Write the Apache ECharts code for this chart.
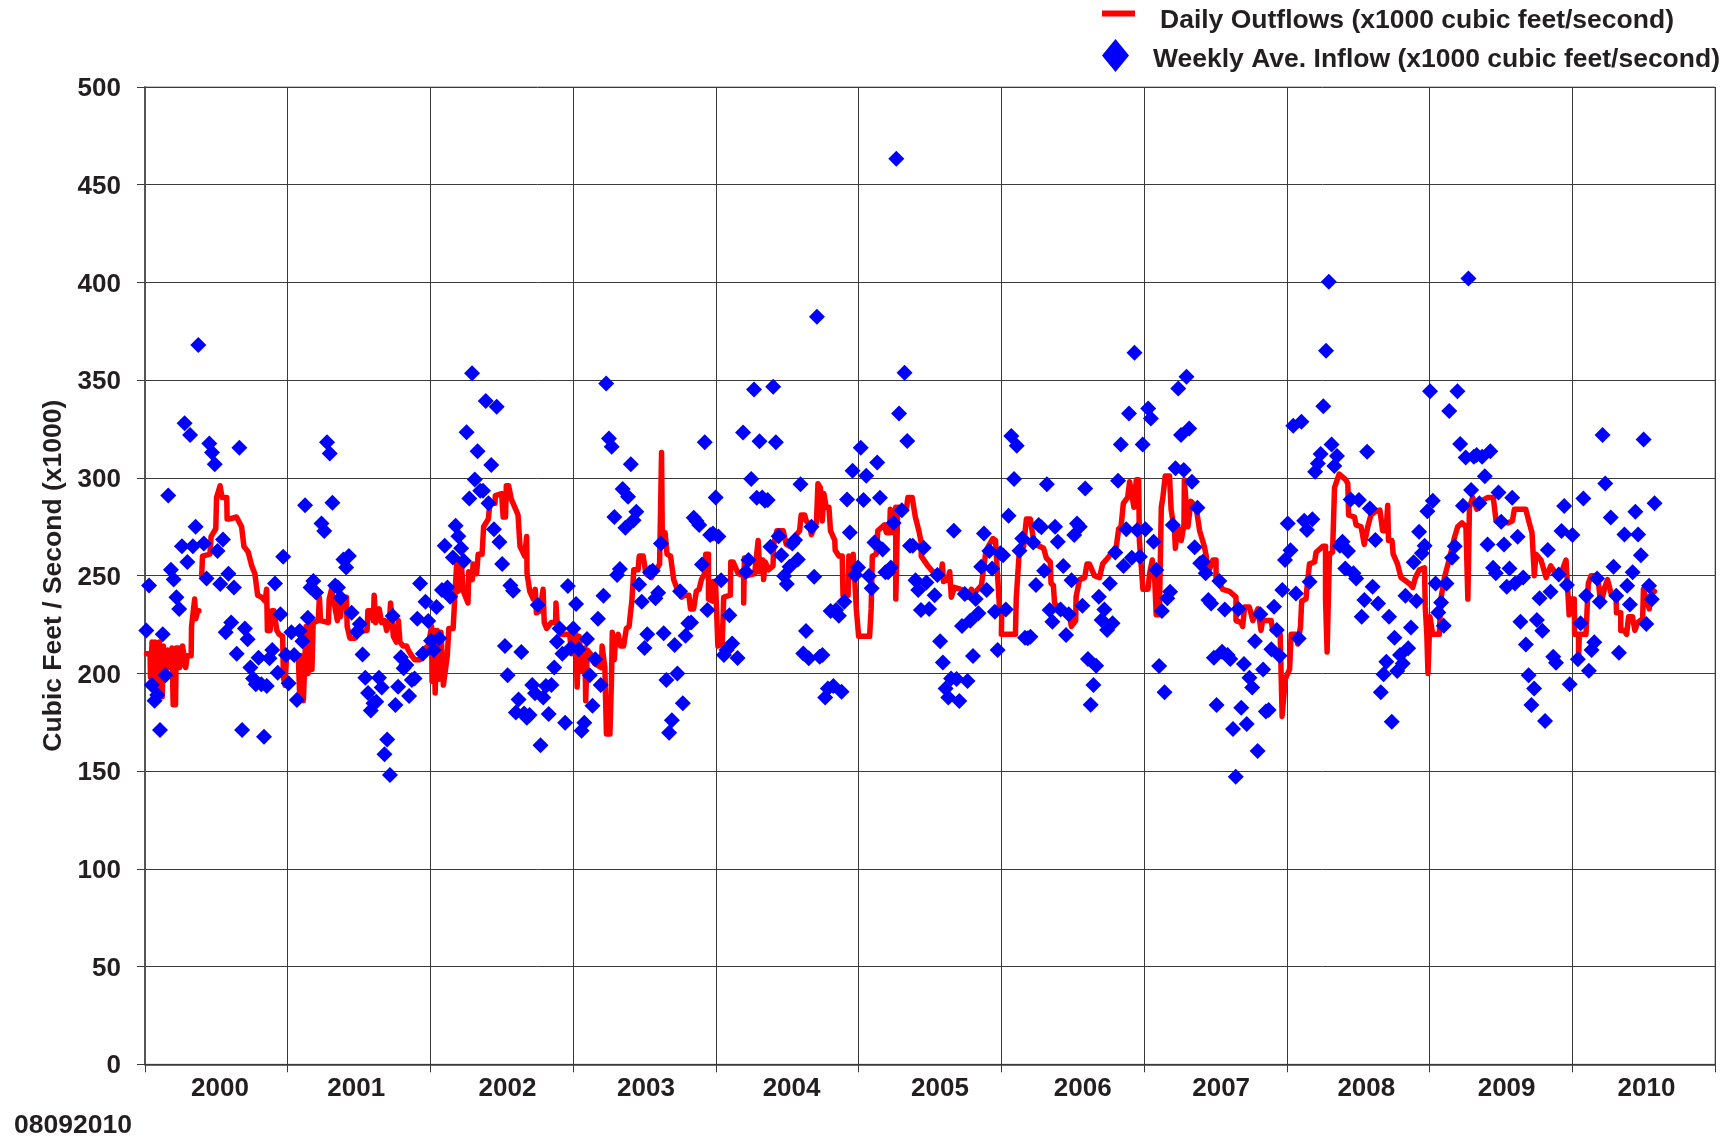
<!DOCTYPE html>
<html><head><meta charset="utf-8">
<style>html,body{margin:0;padding:0;background:#fff}#c{width:1726px;height:1137px}</style>
<script src="https://cdn.jsdelivr.net/npm/echarts@6/dist/echarts.min.js"></script>
</head><body><div id="c"></div>
<script>
const yearLabelPositions=[2000.525,2001.48,2002.54,2003.51,2004.53,2005.57,2006.57,2007.54,2008.557,2009.54,2010.52];
const yTicks=[0,50,100,150,200,250,300,350,400,450,500];
const footnote='08092010';
const outflowName='Daily Outflows (x1000 cubic feet/second)';
const inflowName='Weekly Ave. Inflow (x1000 cubic feet/second)';
const firstWeekDay=3.4;
// weekly inflow, one value per week from the start of 2000
const inflowWeekly=[222,245,194,186,189,171,220,199,291,253,248,239,233,265,328,257,322,265,275,368,null,266.5,248.6,317.6,313,307,262.6,245.7,268.5,221,251,226,244,210,315.4,171,223,217.4,203,197.4,194.4,208,194.4,167.6,193.5,207.7,212,246,200.3,230.2,259.7,209.4,195,221,209.4,186.4,221.7,216.5,286,228.5,244,247.2,241.4,null,276.7,272.8,318.2,312.5,287.3,245,244,238.7,258.3,254.2,260,231,null,221.3,225.2,209.7,197.8,190,181,184.7,185.5,197.8,192.8,158.6,166.2,148,229.3,183.8,193.2,208.2,202.6,204.3,188.4,196.6,197.4,228,246,210,236.7,226.8,216.7,212,234,218,242.6,265.3,244,239.2,259.3,275.5,270.2,264,257.5,323.4,289.5,353.5,299.2,313.7,293.4,293.4,339.3,287,306.6,273.7,336.4,267.2,256,214,199,245,242.3,180,186.7,211,179.5,177.3,178.7,194,189.8,235,163.2,187.6,193.5,179.2,194,203,216.2,223,210,174.8,244.7,212.8,223,235.5,212.4,
170.7,174.8,217.6,199,183.5,207.2,228,194,239.7,348.3,320.2,316,280,250.3,253.4,294.3,274.5,290.4,307,278.4,282.7,245.5,236.7,213,220,251.7,252.5,238.4,241.3,266.5,220.5,196.6,169.6,176,214.5,200,242,184.7,219.3,225.6,226,279.6,278,275.9,255.7,318.2,232.4,270.8,271.6,290,270,247.7,209.4,212,229.8,215.3,null,207.9,null,323.3,252,258,299.4,345.3,289.9,318.8,290,288.3,288.7,264.8,346.6,318.2,270.2,260.5,249.8,245.7,254.6,266.5,268.2,258.3,296.8,210.2,221.7,207.7,275,249.4,382.4,208.5,209.4,187.7,192.3,231.9,193.5,232.4,229.5,190.6,236.7,289,272.1,303.7,250.3,254.2,315.4,288.7,301.1,249.8,243.5,267,307.9,289.9,263.4,251.7,251.7,254.2,277,463.3,333,283.5,353.8,318.9,265.3,265.3,247.7,242.6,232.4,264.3,246.5,232.9,null,240,250.3,216.5,205.6,192.3,187.7,197.4,273,197.1,185.9,224.2,240.6,196.1,226.9,208.9,238,230.7,254.6,271.6,242.6,262.6,253.7,231.5,212,261.4,260.5,232.7,280.6,321.4,299.4,316.4,262.7,
269,218.2,218,218.8,267,245.2,275.9,274.7,252.5,296.7,232.4,226.4,275,267.3,232.7,254.9,219.6,230.2,247.7,270.8,276.7,275,234.6,294.6,207.3,184,194,203.9,239.2,227.3,232.7,222.2,246,225.6,261.9,298.6,317.1,254.9,273.7,333,259.2,364,273.3,259.7,317.1,273.8,335.5,330.4,267.3,252.9,203.8,231.9,190.3,238.4,241.8,275.9,304.9,345.8,321.9,304,351.7,325.3,298,264.5,284.7,256.3,257.1,251.2,237.5,235.8,208,183.8,247.2,211.1,232.7,209.4,207.3,171.5,147.1,232.9,182.4,204.8,174.1,197.8,192.8,216.5,160.3,230.2,202,180.5,181.3,212.4,234.1,222.2,209,242.6,258,276.7,263,326.7,240.9,217.9,328.7,278.1,273.3,246.9,278.8,303.2,307.4,312.2,336.7,365,400.3,317.1,306.1,311.2,265.3,267.3,253.7,262.6,289,251.2,248.6,288.7,229,237.5,313.4,284.4,244.3,268.3,235.8,
190.3,199.5,206,229,175.3,218.2,201.2,209.4,205.1,239.7,212.8,223.5,256.8,237,272.5,261.4,265.3,283,344.4,288.3,246,231.2,236.3,224.4,246,334.2,259.2,265.1,344.4,317.3,285.8,310.5,402,293.8,310.8,311.7,287,310.8,300.9,266,313.7,254,251.2,292.6,277.6,266,244.3,253.7,289.9,246,269.9,226.4,249.1,214.8,199.1,183.8,192.3,227.3,238.4,221.8,175.6,263.1,241.8,208.5,205.5,250.6,272.8,285.6,245.2,194.4,270.8,null,207.2,225.6,289.5,239.7,201.4,211.9,215.9,248.6,236.7,321.9,297.2,null,279.8,254.6,239.7,210.6,null,271.1,244.8,235.3,251.7,282.7,271.1,260.5,319.7,225.2,244.8,237.9,287];
// daily outflow, [day since start of 2000, value]
const outflowDaily=[[4,210],[13,210],[14,198],[18,216],[23,197],[26,216],[33,190],[37,216],[44,188],[47,214],[54,202],[58,212],[64,203],[69,213],[72,184],[78,184],[80,213],[86,213],[89,203],[96,214],[100,215],[104,203],[108,209],[118,209],[119,224],[124,224],[127,238],[130,228],[135,232],[138,232],[141,null],[145,250],[147,260],[166,261],[169,270],[181,274],[183,290],[188,290],[192,296],[197,290],[209,290],[210,279],[217,279],[220,280],[234,280],[247,275],[253,265],[264,262],[273,255],[281,251],[288,240],[298,239],[307,237],[311,243],[313,222],[320,222],[324,232],[330,232],[337,222],[343,220],[352,219],[354,198],[358,194],[362,209],[392,209],[396,186],[400,209],[405,186],[408,186],[412,224],[417,200],[422,226],[427,202],[430,226],[443,227],[446,239],[449,227],[469,226],[471,238],[477,243],[481,243],[492,227],[496,239],[500,229],[505,239],[515,239],[517,224],[524,218],[537,218],[541,221],[568,222],[570,232],[579,232],[584,227],[586,240],[590,226],[599,233],[605,226],[613,227],[618,222],[625,226],[628,236],[632,227],[635,219],[643,216],[648,227],[652,216],[660,214],[669,214],[673,212],[682,209],[686,210],[690,207],[703,207],[711,212],[724,214],[733,224],[734,196],[739,222],[742,190],[747,222],[751,197],[757,221],[763,194],[768,194],[773,209],[777,223],[788,223],[792,238],[797,256],[801,242],[809,256],[814,242],[826,236],[828,252],[837,248],[839,256],[848,251],[852,261],[862,261],[866,275],[878,279],[882,287],[895,287],[896,291],[912,292],[916,280],[922,280],[924,296],[930,296],[937,289],[950,283],[954,281],[959,265],[971,260],[976,270],[977,251],[984,242],[993,238],[998,243],[1001,231],[1010,232],[1018,243],[1021,226],[1027,223],[1039,226],[1050,226],[1051,236],[1054,225],[1065,220],[1086,220],[1091,210],[1102,220],[1105,193],[1110,219],[1119,201],[1125,213],[1127,186],[1131,212],[1139,210],[1150,205],[1167,203],[1169,214],[1176,203],[1180,169],[1189,169],[1193,197],[1195,221],[1200,207],[1203,216],[1210,220],[1216,214],[1224,214],[1231,223],[1238,224],[1240,228],[1245,237],[1250,253],[1261,253],[1264,260],[1274,260],[1281,251],[1295,249],[1308,253],[1316,256],[1321,313],[1323,267],[1330,272],[1335,261],[1344,260],[1352,248],[1363,242],[1372,239],[1380,240],[1391,240],[1395,233],[1403,233],[1410,242],[1417,243],[1423,248],[1431,251],[1434,261],[1441,261],[1441,238],[1451,237],[1453,247],[1459,247],[1465,214],[1476,215],[1480,239],[1497,240],[1498,257],[1504,257],[1517,251],[1531,250],[1531,236],[1533,259],[1540,250],[1559,251],[1568,268],[1572,252],[1580,258],[1582,248],[1586,257],[1595,253],[1606,255],[1608,266],[1616,273],[1632,273],[1640,266],[1649,265],[1666,271],[1674,273],[1678,281],[1687,281],[1691,278],[1700,276],[1704,271],[1717,277],[1721,297],[1727,295],[1732,278],[1736,292],[1742,285],[1749,285],[1753,273],[1764,268],[1765,263],[1775,260],[1783,260],[1785,240],[1798,240],[1800,260],[1806,249],[1811,261],[1815,248],[1819,233],[1825,219],[1853,219],[1857,233],[1860,260],[1870,261],[1874,273],[1891,276],[1896,272],[1904,272],[1906,284],[1913,272],[1920,285],[1920,238],[1925,285],[1947,284],[1951,290],[1962,290],[1970,280],[1979,273],[1985,267],[1985,260],[2002,255],[2015,252],[2036,251],[2039,256],[2042,247],[2053,248],[2058,252],[2062,239],[2070,244],[2087,243],[2104,239],[2113,243],[2121,241],[2139,245],[2144,253],[2151,263],[2168,269],[2175,268],[2181,248],[2185,234],[2191,231],[2190,220],[2194,220],[2226,220],[2228,238],[2235,260],[2237,261],[2247,265],[2254,279],[2264,279],[2271,270],[2275,266],[2288,265],[2298,264],[2305,259],[2315,257],[2317,246],[2323,245],[2326,236],[2339,233],[2364,231],[2369,224],[2380,227],[2381,239],[2390,248],[2403,249],[2409,256],[2415,256],[2428,250],[2441,249],[2449,256],[2462,259],[2484,265],[2490,274],[2496,275],[2502,287],[2513,290],[2518,298],[2529,285],[2535,299],[2541,299],[2543,268],[2547,268],[2552,243],[2565,243],[2569,251],[2576,258],[2582,249],[2586,230],[2594,230],[2599,285],[2603,290],[2609,301],[2620,301],[2624,284],[2633,272],[2635,264],[2641,275],[2650,268],[2657,276],[2658,299],[2667,275],[2675,288],[2688,285],[2697,273],[2709,265],[2714,260],[2718,251],[2731,258],[2739,258],[2739,249],[2756,243],[2773,242],[2790,239],[2790,227],[2803,226],[2807,224],[2812,234],[2824,234],[2833,227],[2846,233],[2854,222],[2858,227],[2880,227],[2884,222],[2903,220],[2908,178],[2911,178],[2916,197],[2927,202],[2931,220],[2944,220],[2948,215],[2955,224],[2958,237],[2969,238],[2973,247],[2978,256],[2991,257],[2995,262],[3012,265],[3019,265],[3019,238],[3023,211],[3029,261],[3037,262],[3042,295],[3054,302],[3071,299],[3076,297],[3078,281],[3093,280],[3097,276],[3110,275],[3118,266],[3127,275],[3135,281],[3148,283],[3158,283.5],[3165,273],[3174,273],[3178,286],[3180,268],[3189,268],[3192,261],[3203,256],[3212,249],[3233,246],[3242,244],[3249,249],[3259,253],[3272,254],[3274,234],[3278,220],[3281,200],[3286,229],[3293,220],[3310,220],[3314,238],[3323,249],[3335,258],[3348,269],[3357,275],[3368,277],[3378,275],[3383,238],[3387,285],[3395,290],[3406,284],[3416,288],[3434,290],[3448,290],[3455,278],[3485,277],[3497,278],[3502,284],[3514,284],[3531,284],[3540,277],[3547,272],[3553,250],[3557,261],[3570,258],[3583,249],[3595,255],[3608,251],[3621,251],[3634,258],[3638,244],[3642,230],[3647,238],[3655,238],[3656,220],[3666,220],[3666,207],[3668,220],[3685,220],[3691,246],[3698,250],[3715,250],[3723,235],[3733,244],[3740,248],[3749,241],[3762,240],[3763,231],[3774,231],[3774,222],[3783,222],[3789,220],[3794,229],[3804,229],[3810,222],[3817,226],[3830,228],[3832,243],[3847,233],[3851,240],[3860,242]];

const toYear=d=>2000+d/365;
const outflowData=outflowDaily.map(p=>[toYear(p[0]),p[1]]);
const inflowData=inflowWeekly.map((v,i)=>[toYear(firstWeekDay+7*i),v]).filter(p=>p[1]!==null);
const txt='#231f20', line='#3a3a3a', font='"Liberation Sans",Arial,sans-serif';
const chart=echarts.init(document.getElementById('c'),null,{renderer:'canvas'});
const legendText={color:txt,fontFamily:font,fontWeight:'bold',fontSize:26.5};
const legendRich=L=>({t:Object.assign({},legendText,{lineHeight:L,verticalAlign:'bottom'})});
chart.setOption({
 animation:false,backgroundColor:'#fff',
 textStyle:{fontFamily:font},
 grid:{left:145,top:87,width:1570,height:977.3,show:true,borderColor:'#888',borderWidth:1,backgroundColor:'transparent'},
 legend:[
  {data:[{name:outflowName,icon:'rect',itemStyle:{color:'#ff0000'}}],left:1102,top:7,itemWidth:33,itemHeight:6,padding:0,formatter:'{t|{name}}',textStyle:Object.assign({},legendText,{padding:[0,0,0,20],rich:legendRich(41)}),selectedMode:false},
  {data:[{name:inflowName,icon:'diamond',itemStyle:{color:'#0000ff'}}],left:1102,top:39,itemWidth:27,itemHeight:33,padding:0,formatter:'{t|{name}}',textStyle:Object.assign({},legendText,{padding:[0,0,0,19],rich:legendRich(36)}),selectedMode:false}
 ],
 xAxis:{type:'value',min:2000,max:2011,interval:1,
  axisLine:{show:true,onZero:false,lineStyle:{color:line,width:1.5}},
  axisTick:{show:true,length:8,lineStyle:{color:line}},
  splitLine:{show:true,lineStyle:{color:line,width:1}},
  axisLabel:{customValues:yearLabelPositions,color:txt,fontFamily:font,fontWeight:'bold',fontSize:26,margin:12,formatter:v=>String(Math.floor(v)),hideOverlap:false}},
 yAxis:{type:'value',min:0,max:500,interval:50,
  name:'Cubic Feet / Second (x1000)',nameLocation:'middle',nameGap:77,nameRotate:90,
  nameTextStyle:{color:txt,fontFamily:font,fontWeight:'bold',fontSize:26.5},
  axisLine:{show:true,lineStyle:{color:'#555',width:2}},
  axisTick:{show:true,length:8,lineStyle:{color:line}},
  splitLine:{show:true,lineStyle:{color:line,width:1}},
  axisLabel:{color:txt,fontFamily:font,fontWeight:'bold',fontSize:26,margin:24,verticalAlign:'top',lineHeight:4}},
 series:[
  {name:outflowName,type:'line',data:outflowData,showSymbol:false,symbol:'none',connectNulls:false,smooth:false,z:3,
   lineStyle:{color:'#ff0000',width:5.5,join:'round',cap:'round'},itemStyle:{color:'#ff0000'}},
  {name:inflowName,type:'scatter',data:inflowData,symbol:'diamond',symbolSize:16,z:4,itemStyle:{color:'#0000ff',opacity:1}}
 ],
 graphic:[{type:'text',left:14,top:1112,style:{text:footnote,fill:txt,font:'bold 26.5px '+font}}]
});
</script></body></html>
